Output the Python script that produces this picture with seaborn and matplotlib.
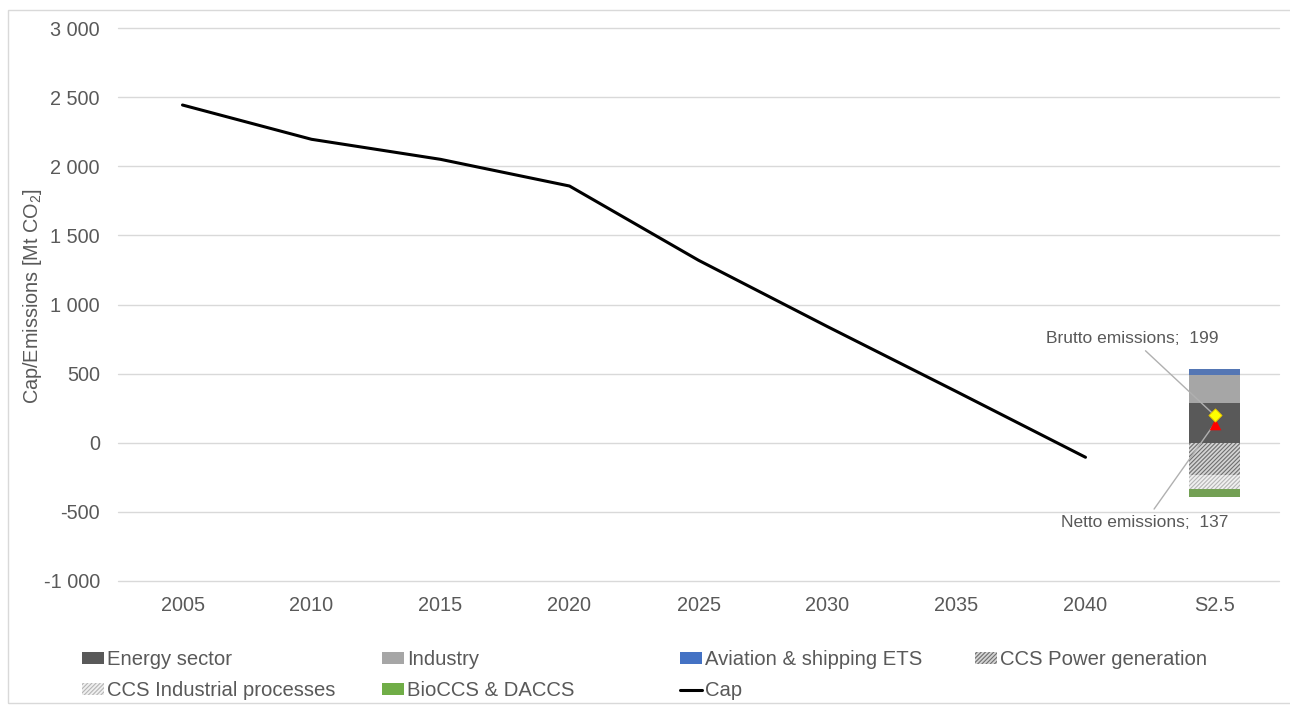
import numpy as np
import pandas as pd
import matplotlib
matplotlib.use("Agg")
import matplotlib.pyplot as plt
from matplotlib.patches import Patch, Rectangle
from matplotlib.lines import Line2D
from matplotlib.ticker import FuncFormatter
import seaborn as sns

# ---- data ----
categories = ["2005", "2010", "2015", "2020", "2025", "2030", "2035", "2040", "S2.5"]
cap_years = ["2005", "2010", "2015", "2020", "2025", "2030", "2035", "2040"]
cap_values = [2443, 2195, 2050, 1857, 1320, 840, 370, -105]

scenario = "S2.5"
segment_names = ["Energy sector", "Industry", "Aviation & shipping ETS",
                 "CCS Power generation", "CCS Industrial processes", "BioCCS & DACCS"]
segment_values = [290, 200, 41, -235, -100, -59]

brutto_emissions = 199
netto_emissions = 137

# ---- styling ----
sns.set_theme(style="white")
plt.rcParams["font.family"] = ["Liberation Sans", "DejaVu Sans"]
plt.rcParams["mathtext.default"] = "regular"
plt.rcParams["hatch.linewidth"] = 0.8

text_color = "#595959"
grid_color = "#d9d9d9"

segment_styles = {
    "Energy sector": dict(color="#595959"),
    "Industry": dict(color="#a6a6a6"),
    "Aviation & shipping ETS": dict(color="#4472c4"),
    "CCS Power generation": dict(facecolor="#d4d4d4", edgecolor="#6e6e6e", hatch="////////"),
    "CCS Industrial processes": dict(facecolor="#f0f0f0", edgecolor="#b5b5b5", hatch="////////"),
    "BioCCS & DACCS": dict(color="#70ad47"),
}

fig = plt.figure(figsize=(12.9, 7.06), dpi=100)
ax = fig.add_axes([118 / 1290, (706 - 581) / 706, (1279 - 118) / 1290, (581 - 28) / 706])

# stacked bar for the scenario: positives stack upward, negatives downward
pos_base, neg_base = 0, 0
for name, val in zip(segment_names, segment_values):
    base = pos_base if val >= 0 else neg_base
    df_seg = pd.DataFrame({"scenario": [scenario], "value": [val]})
    style = segment_styles[name]
    kw = dict(linewidth=0)
    if "hatch" in style:
        kw.update(facecolor=style["facecolor"], edgecolor=style["edgecolor"], hatch=style["hatch"])
    else:
        kw.update(color=style["color"])
    sns.barplot(data=df_seg, x="scenario", y="value", order=categories,
                bottom=base, width=0.4, errorbar=None, ax=ax, **kw)
    if val >= 0:
        pos_base += val
    else:
        neg_base += val

# cap trajectory
cap_pos = [categories.index(y) for y in cap_years]
sns.lineplot(x=cap_pos, y=cap_values, color="black", linewidth=2.2, ax=ax, zorder=4)

# gross / net emission markers
s_idx = categories.index(scenario)
sns.scatterplot(x=[s_idx], y=[netto_emissions], marker="^", color="#ff0000",
                s=70, linewidth=0, ax=ax, zorder=6)
sns.scatterplot(x=[s_idx], y=[brutto_emissions], marker="D", color="#ffff00",
                edgecolor="#e6c200", s=45, linewidth=0.6, ax=ax, zorder=7)

ax.annotate(f"Brutto emissions;  {brutto_emissions}", xy=(s_idx, brutto_emissions),
            xytext=(7.36, 757), ha="center", va="center", fontsize=12.5, color=text_color,
            arrowprops=dict(arrowstyle="-", color="#b0b0b0", lw=1, shrinkA=2, shrinkB=0))
ax.annotate(f"Netto emissions;  {netto_emissions}", xy=(s_idx, netto_emissions),
            xytext=(7.46, -574), ha="center", va="center", fontsize=12.5, color=text_color,
            arrowprops=dict(arrowstyle="-", color="#b0b0b0", lw=1, shrinkA=2, shrinkB=0))

# axes
ax.set_xlim(-0.5, len(categories) - 0.5)
ax.set_ylim(-1000, 3000)
ax.set_yticks(np.arange(-1000, 3001, 500))
ax.yaxis.set_major_formatter(FuncFormatter(lambda v, p: f"{v:,.0f}".replace(",", " ")))
ax.set_xticks(range(len(categories)))
ax.set_xticklabels(categories)
ax.set_xlabel("")
ax.set_ylabel("")
ax.grid(axis="y", color=grid_color, linewidth=1)
for gl in ax.get_ygridlines():
    gl.set_clip_on(False)
ax.set_axisbelow(True)
for sp in ax.spines.values():
    sp.set_visible(False)
ax.tick_params(axis="y", length=0, pad=13, labelsize=14.3, labelcolor=text_color)
ax.tick_params(axis="x", length=0, pad=11, labelsize=14.3, labelcolor=text_color)

fig.text(33 / 1290, 1 - 296 / 706, "Cap/Emissions [Mt CO$_2$]", rotation=90,
         ha="center", va="center", fontsize=14.3, color=text_color)

# legend laid out in four evenly spaced columns
def seg_handle(name):
    st = segment_styles[name]
    if "hatch" in st:
        return Patch(facecolor=st["facecolor"], edgecolor=st["edgecolor"], hatch=st["hatch"], linewidth=0)
    return Patch(facecolor=st["color"], linewidth=0)

cap_handle = Line2D([0], [0], color="black", linewidth=2.2)
columns = [
    (82, [(seg_handle("Energy sector"), "Energy sector"),
          (seg_handle("CCS Industrial processes"), "CCS Industrial processes")]),
    (382, [(seg_handle("Industry"), "Industry"),
           (seg_handle("BioCCS & DACCS"), "BioCCS & DACCS")]),
    (680, [(seg_handle("Aviation & shipping ETS"), "Aviation & shipping ETS"),
           (cap_handle, "Cap")]),
    (975, [(seg_handle("CCS Power generation"), "CCS Power generation")]),
]
for x_px, entries in columns:
    hs = [e[0] for e in entries]
    ls = [e[1] for e in entries]
    leg = fig.legend(hs, ls, loc="upper left", bbox_to_anchor=(x_px / 1290, 1 - 650 / 706),
                     frameon=False, fontsize=14.6, handlelength=1.1, handleheight=0.5,
                     handletextpad=0.15, labelspacing=0.6, borderpad=0, borderaxespad=0)
    for t in leg.get_texts():
        t.set_color(text_color)

# thin chart-area frame
fig.patches.append(Rectangle((8 / 1290, 3 / 706), 1.2, 1 - 13 / 706, transform=fig.transFigure,
                             fill=False, edgecolor="#d9d9d9", linewidth=1))

fig.savefig("out.png", dpi=100)
